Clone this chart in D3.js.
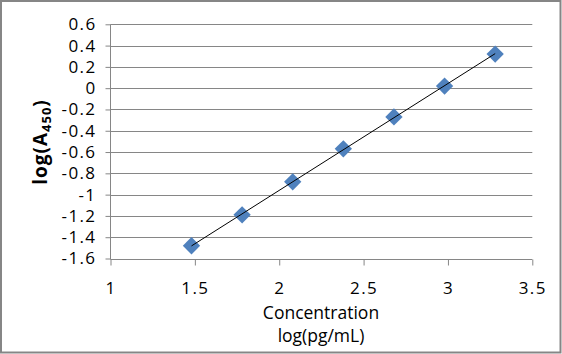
<!DOCTYPE html>
<html>
<head>
<meta charset="utf-8">
<script src="https://cdn.jsdelivr.net/npm/d3@7"></script>
<style>
  body { margin: 0; background: #fff; }
  svg { display: block; }
</style>
</head>
<body>
<div id="chart"></div>
<script>
// data
const concLog = [1.48, 1.78, 2.08, 2.38, 2.68, 2.98, 3.28];
const absLog = [-1.48, -1.19, -0.88, -0.57, -0.27, 0.02, 0.32];
const xTicks = [1, 1.5, 2, 2.5, 3, 3.5];
const yTicks = [-1.6, -1.4, -1.2, -1, -0.8, -0.6, -0.4, -0.2, 0, 0.2, 0.4, 0.6];

const width = 562, height = 354;
const margin = { top: 24.3, right: 29.7, bottom: 95.5, left: 110.5 };

const svg = d3.select("#chart")
  .append("svg")
  .attr("width", width)
  .attr("height", height)
  .style("font-family", "'Open Sans', sans-serif");

svg.append("rect")
  .attr("x", 1).attr("y", 1)
  .attr("width", width - 2.5).attr("height", height - 2.5)
  .attr("fill", "#fff")
  .attr("stroke", "#868686")
  .attr("stroke-width", 2);

const x = d3.scaleLinear().domain([1, 3.5]).range([margin.left, width - margin.right]);
const y = d3.scaleLinear().domain([-1.6, 0.6]).range([height - margin.bottom, margin.top]);

// gridlines
svg.append("g")
  .selectAll("line")
  .data(yTicks.slice(1))
  .join("line")
  .attr("x1", x(1)).attr("x2", x(3.5))
  .attr("y1", d => Math.round(y(d)) + 0.5)
  .attr("y2", d => Math.round(y(d)) + 0.5)
  .attr("stroke", "#868686");

const fmt = d => String(d);

// y axis
const yAxis = svg.append("g")
  .attr("transform", `translate(${Math.round(x(1)) - 0.5},0)`)
  .call(d3.axisLeft(y).tickValues(yTicks).tickSize(5).tickPadding(9).tickFormat(fmt));

// x axis
const xAxis = svg.append("g")
  .attr("transform", `translate(0,${Math.round(y(-1.6)) + 0.5})`)
  .call(d3.axisBottom(x).tickValues(xTicks).tickSize(6).tickPadding(16).tickFormat(fmt));

[yAxis, xAxis].forEach(g => {
  g.select(".domain").attr("stroke", "#868686");
  g.selectAll(".tick line").attr("stroke", "#868686");
  g.selectAll(".tick text")
    .attr("fill", "#000")
    .attr("font-size", 17)
    .attr("letter-spacing", 1.4)
    .attr("font-family", "'Open Sans', sans-serif");
});
// no outer tick stubs on the axis lines
yAxis.select(".domain").attr("d", `M0,${y(0.6)}V${Math.round(y(-1.6)) + 0.5}`);
xAxis.select(".domain").attr("d", `M${x(1)},0H${x(3.5)}`);

// trendline (least squares fit of the points)
const mx = d3.mean(concLog), my = d3.mean(absLog);
const slope = d3.sum(concLog, (v, i) => (v - mx) * (absLog[i] - my)) / d3.sum(concLog, v => (v - mx) ** 2);
const icpt = my - slope * mx;
const xMin = d3.min(concLog), xMax = d3.max(concLog);

// markers
const diamond = d3.symbol().type(d3.symbolSquare).size(150);
svg.append("g")
  .selectAll("path")
  .data(concLog.map((v, i) => [v, absLog[i]]))
  .join("path")
  .attr("d", diamond)
  .attr("transform", d => `translate(${x(d[0])},${y(d[1])}) rotate(45)`)
  .attr("fill", "#4F81BD");

svg.append("line")
  .attr("x1", x(xMin)).attr("y1", y(slope * xMin + icpt))
  .attr("x2", x(xMax)).attr("y2", y(slope * xMax + icpt))
  .attr("stroke", "#000")
  .attr("stroke-width", 1);

// y title
const yt = svg.append("text")
  .attr("transform", "translate(47,142) rotate(-90)")
  .attr("text-anchor", "middle")
  .attr("font-weight", "bold")
  .attr("font-size", 19)
  .attr("letter-spacing", 1);
yt.append("tspan").text("log(A");
yt.append("tspan").attr("font-size", 13).attr("dy", 4).text("450");
yt.append("tspan").attr("dy", -4).text(")");

// x title
svg.append("text")
  .attr("x", 321).attr("y", 319)
  .attr("text-anchor", "middle")
  .attr("font-size", 17.5)
  .text("Concentration");
svg.append("text")
  .attr("x", 321).attr("y", 342)
  .attr("text-anchor", "middle")
  .attr("font-size", 17.5)
  .text("log(pg/mL)");
</script>
</body>
</html>
